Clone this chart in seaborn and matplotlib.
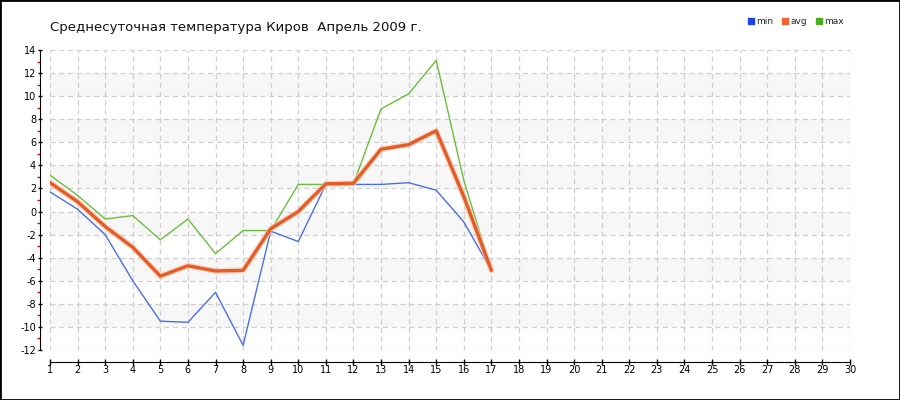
import pandas as pd
import seaborn as sns
import matplotlib.pyplot as plt
from matplotlib.patches import Rectangle
from matplotlib.lines import Line2D
from matplotlib.ticker import MultipleLocator

# Данные: температура по дням (апрель 2009, Киров)
dias = list(range(1, 18))
t_min = [1.7, 0.2, -2.0, -6.0, -9.5, -9.6, -7.0, -11.6, -1.7, -2.6, 2.35, 2.35, 2.35, 2.5, 1.85, -0.9, -5.1]
t_avg = [2.5, 0.85, -1.3, -3.1, -5.6, -4.7, -5.15, -5.1, -1.5, 0.0, 2.4, 2.45, 5.4, 5.8, 7.0, 1.3, -5.1]
t_max = [3.15, 1.4, -0.65, -0.35, -2.45, -0.65, -3.65, -1.65, -1.65, 2.35, 2.35, 2.4, 8.9, 10.2, 13.1, 2.7, -5.1]

titulo = "Среднесуточная температура Киров  Апрель 2009 г."
nombres = ["min", "avg", "max"]
colores = ["#4a6ee6", "#e65c26", "#6cbd3f"]
colores_leyenda = ["#1f45e0", "#f06432", "#4caf22"]

df = pd.DataFrame({"dia": dias, "min": t_min, "avg": t_avg, "max": t_max})

sns.set_style("white")
plt.rcParams['font.family'] = ['DejaVu Sans']
plt.rcParams['axes.unicode_minus'] = False

fig = plt.figure(figsize=(9, 4), dpi=100)
ax = fig.add_axes([50 / 900, 50 / 400, 800 / 900, 300 / 400])

# Bandas grises alternas
for y0 in range(-10, 14, 4):
    ax.axhspan(y0, y0 + 2, color="#f7f7f7", zorder=0, lw=0)

# Líneas
sns.lineplot(data=df, x="dia", y="min", color=colores[0], linewidth=1.0, ax=ax, zorder=3)
sns.lineplot(data=df, x="dia", y="max", color=colores[2], linewidth=1.0, ax=ax, zorder=3)
sns.lineplot(data=df, x="dia", y="avg", color="#f6c7b2", linewidth=4.2, alpha=0.7, ax=ax, zorder=4)
sns.lineplot(data=df, x="dia", y="avg", color=colores[1], linewidth=2.4, ax=ax, zorder=5)

ax.set_xlim(1, 30)
ax.set_ylim(-12, 14)
ax.set_xlabel("")
ax.set_ylabel("")
ax.xaxis.set_major_locator(MultipleLocator(1))
ax.yaxis.set_major_locator(MultipleLocator(2))
ax.yaxis.set_minor_locator(MultipleLocator(1))
ax.grid(True, which="major", color="#cfcfcf", linestyle=(0, (4, 3)), linewidth=0.9)
ax.set_axisbelow(True)

# Ejes desplazados (en puntos: 72/100 por píxel)
for lado in ["top", "right"]:
    ax.spines[lado].set_visible(False)
ax.spines["left"].set_position(("outward", 7.2))
ax.spines["bottom"].set_position(("outward", 8.3))
ax.spines["left"].set_color("black")
ax.spines["bottom"].set_color("black")
ax.tick_params(left=True, bottom=True, which="both")
ax.tick_params(axis="y", which="major", direction="inout", length=3.5, width=1, colors="black", labelsize=7, pad=1)
ax.tick_params(axis="y", which="minor", direction="out", length=2, width=1, color="red")
ax.tick_params(axis="x", which="major", direction="inout", length=4.5, width=1, colors="black", labelsize=7, pad=0)

# Título
fig.text(50 / 900, 1 - 28 / 400, titulo, fontsize=9.5, va="center", ha="left", color="#111111")

# Leyenda
handles = [Line2D([], [], marker="s", linestyle="", markersize=4.5, color=c) for c in colores_leyenda]
fig.legend(handles, nombres, loc="center", bbox_to_anchor=(795 / 900, 1 - 22 / 400), ncol=3,
           frameon=False, fontsize=6.5, handletextpad=0.1, columnspacing=0.8, handlelength=1.0)

# Marco
fig.add_artist(Rectangle((0, 0), 1, 1, transform=fig.transFigure, fill=False, ec="black", lw=2))

fig.savefig("out.png", dpi=100)
